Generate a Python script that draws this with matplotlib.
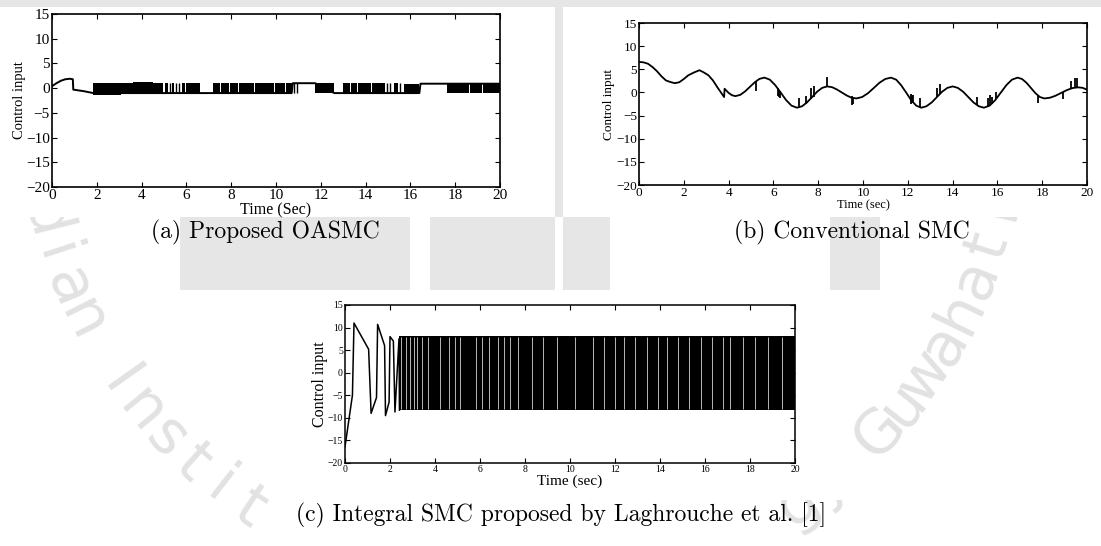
import numpy as np
import matplotlib
matplotlib.use('Agg')
import matplotlib.pyplot as plt
from matplotlib.patches import Rectangle

# ---- (a) Proposed OASMC ----
a_t = [0, 0.2, 0.4, 0.6, 0.8, 0.93, 0.95, 1.4, 1.85, 6.6, 7.2, 10.7, 10.75, 11.75, 12.6, 13.0, 15.6, 16.4, 16.45, 17.65, 20]
a_u = [0.4, 1.0, 1.5, 1.8, 1.9, 1.8, -0.3, -0.6, -1.0, -1.0, -1.0, -1.0, 1.0, 1.0, -1.0, -1.0, -1.0, -1.0, 0.9, 0.9, 0.9]
# chattering bands: start, end, low, high
a_band_t0 = [1.85, 3.1, 3.62, 4.52, 5.05, 5.35, 5.8, 6.0, 7.2, 7.55, 7.95, 8.35, 9.05, 9.95, 10.45,
             11.75, 13.0, 13.35, 13.65, 14.3, 15.25, 15.7, 17.65, 18.65, 19.25]
a_band_t1 = [3.08, 3.6, 4.5, 4.97, 5.2, 5.45, 5.95, 6.6, 7.5, 7.9, 8.3, 9.0, 9.9, 10.4, 10.7,
             12.6, 13.3, 13.6, 14.25, 14.85, 15.45, 16.4, 18.6, 19.2, 20.0]
a_band_lo = [-1.3, -1.1, -1.0, -1.0, -1.0, -1.0, -1.0, -1.0, -1.0, -1.0, -1.0, -1.0, -1.0, -1.0, -1.0,
             -1.0, -1.0, -1.0, -1.0, -1.0, -1.0, -1.0, -1.0, -1.0, -1.0]
a_band_hi = [1.0, 1.1, 1.3, 1.1, 1.0, 1.0, 1.0, 1.1, 1.0, 1.0, 1.0, 1.1, 1.1, 1.0, 1.0,
             1.0, 1.0, 1.0, 1.0, 1.0, 1.0, 0.9, 0.9, 0.9, 0.9]
a_spike_t = [5.25, 5.55, 5.65, 10.8, 10.95, 14.95, 15.1, 15.55]

# ---- (b) Conventional SMC ----
b_t = [0, 0.2, 0.4, 0.6, 0.8, 1.0, 1.2, 1.4, 1.6, 1.8, 2.0, 2.2, 2.45, 2.7, 2.9, 3.1, 3.3, 3.5, 3.7, 3.8,
       3.82, 4.0, 4.15, 4.3, 4.52, 4.73, 4.95, 5.17, 5.38, 5.6, 5.84, 6.08, 6.33, 6.57, 6.81, 7.05,
       7.28, 7.5, 7.73, 7.95, 8.18, 8.4, 8.62, 8.83, 9.05, 9.27, 9.48, 9.7, 9.96, 10.22, 10.48, 10.73,
       10.99, 11.25, 11.48, 11.7, 11.93, 12.15, 12.38, 12.6, 12.83, 13.07, 13.3, 13.53, 13.77, 14.0,
       14.23, 14.47, 14.7, 14.93, 15.17, 15.4, 15.65, 15.9, 16.15, 16.4, 16.65, 16.9, 17.1, 17.3, 17.5,
       17.7, 17.9, 18.1, 18.35, 18.6, 18.85, 19.1, 19.35, 19.6, 19.8, 20.0]
b_u = [6.6, 6.5, 6.2, 5.5, 4.6, 3.5, 2.6, 2.25, 2.0, 2.2, 2.9, 3.7, 4.3, 4.8, 4.3, 3.7, 2.6, 1.1, -0.3, -1.0,
       0.8, -0.1, -0.6, -0.8, -0.53, 0.2, 1.2, 2.2, 2.93, 3.2, 2.76, 1.575, -0.05, -1.675, -2.86, -3.3,
       -2.99, -2.15, -1.0, 0.15, 0.99, 1.3, 1.13, 0.65, 0.0, -0.65, -1.13, -1.3, -1.0, -0.175, 0.95, 2.075,
       2.9, 3.2, 2.76, 1.575, -0.05, -1.675, -2.86, -3.3, -2.99, -2.15, -1.0, 0.15, 0.99, 1.3,
       0.99, 0.15, -1.0, -2.15, -2.99, -3.3, -2.86, -1.675, -0.05, 1.575, 2.76, 3.2, 2.9, 2.075, 0.95,
       -0.175, -1.0, -1.3, -1.14, -0.7, -0.1, 0.5, 0.94, 1.1, 1.0, 0.6]
b_spike_t = [5.22, 6.2, 6.25, 6.3, 7.15, 7.45, 7.7, 7.8, 8.4, 9.5, 9.55, 12.15, 12.2, 12.25, 12.55,
             13.3, 13.45, 15.1, 15.6, 15.65, 15.75, 15.95, 17.8, 18.95, 19.3, 19.45, 19.55]
b_spike_a = [2.4, 1.0, 0.6, 0.4, -3.2, -2.6, -1.3, -0.9, 1.3, -0.8, -1.0, -0.3, -0.5, -0.6, -3.3,
             -1.0, -0.4, -2.7, -3.0, -2.8, -2.4, -1.5, -0.7, 0.0, 0.9, 1.0, 1.0]
b_spike_b = [0.4, -0.8, -1.0, -1.2, -1.2, -0.8, 1.0, 1.4, 3.4, -2.7, -2.4, -2.4, -2.2, -2.0, -1.1,
             0.9, 1.9, -1.0, -1.3, -0.5, -0.9, 0.0, -2.3, -1.4, 2.5, 3.1, 3.2]

# ---- (c) Integral SMC (Laghrouche et al.) ----
c_t = [0, 0.33, 0.4, 1.05, 1.16, 1.4, 1.45, 1.76, 1.8, 1.96, 2.0, 2.15, 2.22, 2.4, 2.42]
c_u = [-16.4, -5.0, 11.0, 5.2, -9.0, -5.5, 10.7, 6.0, -9.5, -6.5, 8.0, 7.0, -8.7, 7.5, -8.3]
c_band = [2.42, 20.0, -8.3, 8.2]
c_gap_t = [2.5, 2.7, 2.9, 3.05, 3.2, 3.4, 3.7, 4.2, 4.6, 4.9, 5.1, 5.8, 6.1, 6.4, 6.8, 7.05, 7.35,
           7.7, 8.3, 8.8, 9.4, 10.2, 11.0, 11.5, 12.0, 12.4, 12.9, 13.4, 13.9, 14.3, 14.8, 15.3,
           15.8, 16.3, 16.8, 17.1, 17.7, 18.2, 18.8, 19.4]

x_ticks = list(range(0, 21, 2))
y_ticks = list(range(-20, 16, 5))
captions = ['(a) Proposed OASMC', '(b) Conventional SMC',
            '(c) Integral SMC proposed by Laghrouche et al. [1]']
watermark = 'Indian Institute of Technology Guwahati'

W, H = 1101, 546
plt.rcParams['font.family'] = ['Liberation Serif', 'DejaVu Serif']
fig = plt.figure(figsize=(W / 100, H / 100), dpi=100)


def px_rect(x0, y0, x1, y1):
    # pixel box (y downwards) -> figure fraction
    return [x0 / W, 1 - y1 / H, (x1 - x0) / W, (y1 - y0) / H]


def fig_rect(x0, y0, x1, y1, color, z):
    l, b, w, h = px_rect(x0, y0, x1, y1)
    fig.patches.append(Rectangle((l, b), w, h, transform=fig.transFigure,
                                 facecolor=color, edgecolor='none', zorder=z))


# faint watermark behind the sub-figures
gray = '#e6e6e6'
fig_rect(0, 0, W, 7, gray, 0.5)
fig_rect(555, 0, 563, 217, gray, 0.5)
fig_rect(180, 217, 410, 290, gray, 0.5)
fig_rect(430, 217, 555, 290, gray, 0.5)
fig_rect(563, 217, 610, 290, gray, 0.5)
fig_rect(830, 217, 880, 290, gray, 0.5)
cx, cy, r = 520, 100, 490
for i, ch in enumerate(watermark):
    th = np.radians(174.5 - i * 4.25)
    x, y = cx + r * np.cos(th), cy + r * np.sin(th)
    if 35 <= x <= W - 35 and 35 <= y <= H - 35:
        fig.text(x / W, 1 - y / H, ch, rotation=90 - np.degrees(th), ha='center', va='center',
                 fontsize=44, color='#e2e2e2', family='DejaVu Sans', zorder=0.8)

# white sub-figure backgrounds
fig_rect(0, 7, 555, 217, 'white', 2)
fig_rect(563, 7, W, 217, 'white', 2)
fig_rect(270, 290, 854, 500, 'white', 2)


def style(ax, tick_fs, spine_w=1.0):
    ax.set_xlim(0, 20)
    ax.set_ylim(-20, 15)
    ax.set_xticks(x_ticks)
    ax.set_yticks(y_ticks)
    ax.tick_params(direction='in', top=True, right=True, length=3.5, width=0.8,
                   labelsize=tick_fs, pad=1.5)
    for s in ax.spines.values():
        s.set_linewidth(spine_w)
    ax.set_zorder(5)


# (a)
ax1 = fig.add_axes(px_rect(52, 14, 500, 187))
ax1.plot(a_t, a_u, color='k', lw=1.4)
for t0, t1, lo, hi in zip(a_band_t0, a_band_t1, a_band_lo, a_band_hi):
    ax1.fill_between([t0, t1], [lo, lo], [hi, hi], color='k', lw=0)
ax1.vlines(a_spike_t, -1.0, 1.0, colors='k', lw=1.0)
style(ax1, 11, 1.2)
ax1.set_xlabel('Time (Sec)', fontsize=11.5, labelpad=0.5)
ax1.set_ylabel('Control input', fontsize=10.5, labelpad=0)

# (b)
ax2 = fig.add_axes(px_rect(639, 23, 1087, 185))
ax2.plot(b_t, b_u, color='k', lw=1.3)
ax2.vlines(b_spike_t, b_spike_a, b_spike_b, colors='k', lw=1.3)
style(ax2, 9.5, 1.2)
ax2.set_xlabel('Time (sec)', fontsize=9, labelpad=0)
ax2.set_ylabel('Control input', fontsize=9.5, labelpad=1)

# (c)
ax3 = fig.add_axes(px_rect(345, 305, 795, 463))
ax3.plot(c_t, c_u, color='k', lw=1.1)
ax3.fill_between(c_band[:2], [c_band[2]] * 2, [c_band[3]] * 2, color='k', lw=0)
ax3.vlines(c_gap_t, c_band[2] + 0.3, c_band[3] - 0.3, colors='white', lw=0.5)
style(ax3, 7, 1.1)
ax3.set_xlabel('Time (sec)', fontsize=11, labelpad=0)
ax3.set_ylabel('Control input', fontsize=11.5, labelpad=0)

# sub-figure captions
cap_pos = [(265, 232), (852, 232), (561, 515)]
for txt, (x, y) in zip(captions, cap_pos):
    fig.text(x / W, 1 - y / H, txt, ha='center', va='center', fontsize=17,
             family='cmr10', zorder=6)

fig.savefig('out.png', dpi=100)
